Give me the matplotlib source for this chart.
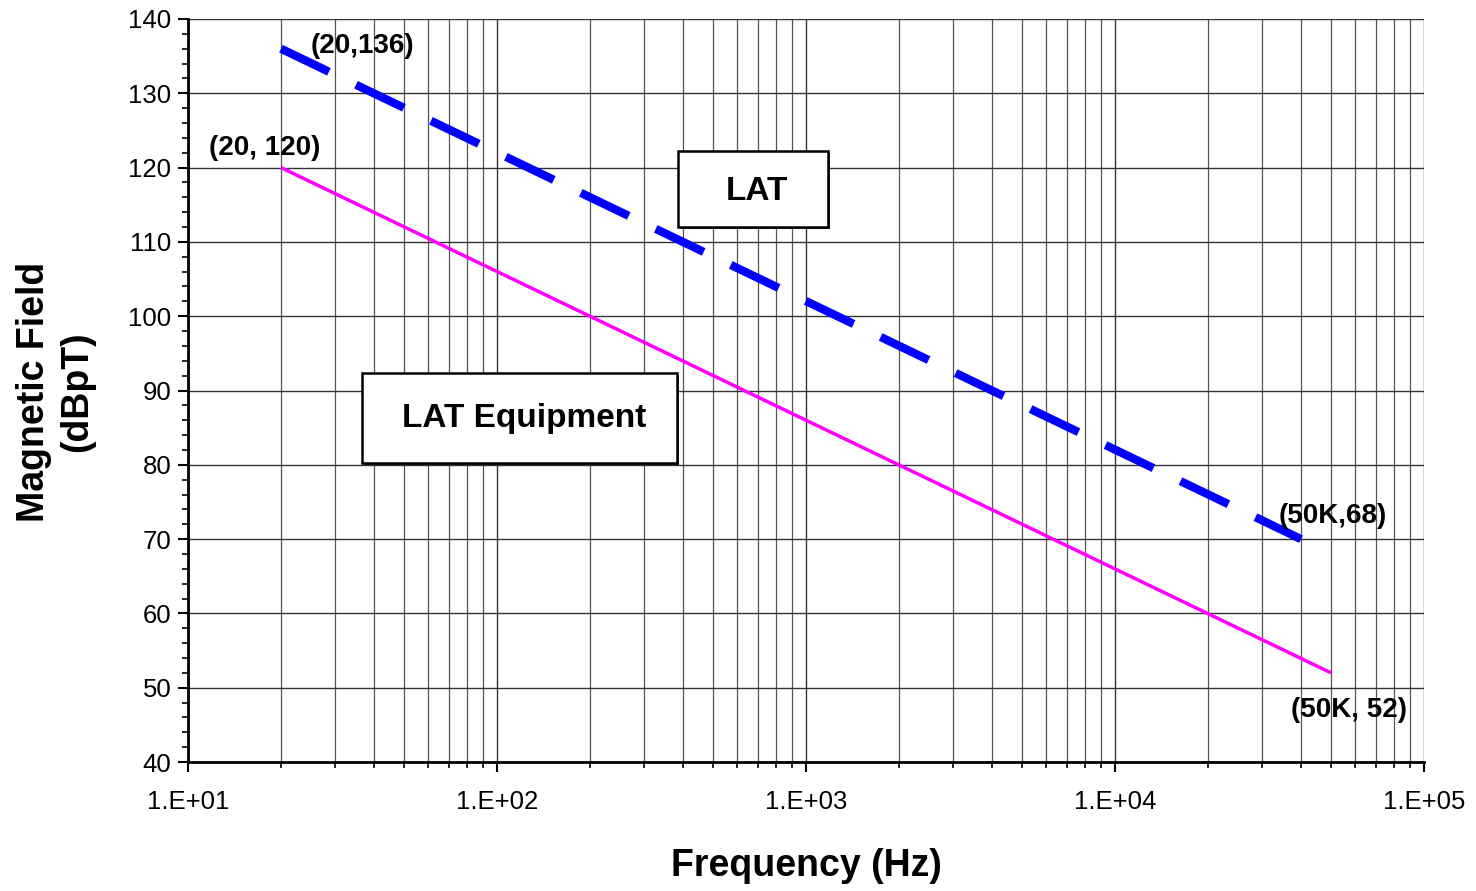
import matplotlib
matplotlib.use("Agg")
import matplotlib.pyplot as plt
from matplotlib.ticker import LogLocator, FixedLocator, NullFormatter, MultipleLocator
from matplotlib.patches import Rectangle

plt.rcParams['font.family'] = ['Liberation Sans', 'DejaVu Sans']

# Data
lat_freq = [20, 40000]
lat_field = [136, 70]
equip_freq = [20, 50000]
equip_field = [120, 52]
x_ticks = [1e1, 1e2, 1e3, 1e4, 1e5]
x_tick_labels = ["1.E+01", "1.E+02", "1.E+03", "1.E+04", "1.E+05"]
y_ticks = [40, 50, 60, 70, 80, 90, 100, 110, 120, 130, 140]

W, H = 1476, 891
fig = plt.figure(figsize=(W/100, H/100), dpi=100)
ax = fig.add_axes([188/W, 1-762/H, (1424-188)/W, (762-19)/H])
ax.set_xscale('log')
ax.set_xlim(10, 1e5)
ax.set_ylim(40, 140)

# grid
ax.xaxis.set_major_locator(FixedLocator(x_ticks))
ax.set_xticklabels(x_tick_labels)
ax.xaxis.set_minor_locator(LogLocator(base=10, subs=range(2, 10)))
ax.xaxis.set_minor_formatter(NullFormatter())
ax.set_yticks(y_ticks)
ax.yaxis.set_minor_locator(MultipleLocator(2))
ax.grid(which='major', axis='both', color='#333333', linewidth=1.0)
ax.grid(which='minor', axis='x', color='#555555', linewidth=0.9)
ax.set_axisbelow(True)

for s in ['top', 'right']:
    ax.spines[s].set_visible(False)
for s in ['left', 'bottom']:
    ax.spines[s].set_linewidth(2)
ax.tick_params(which='major', direction='out', length=7, width=1.5, labelsize=18.5, pad=5)
ax.tick_params(which='minor', direction='out', length=4, width=1.2)
ax.tick_params(axis='x', which='major', pad=13)

# lines
ax.plot(equip_freq, equip_field, color='#FF00FF', linewidth=2.5, solid_capstyle='butt', zorder=3)
ln, = ax.plot(lat_freq, lat_field, color='#0000FF', linewidth=6, dash_capstyle='butt', zorder=3)
ln.set_dashes((6.38, 3.6))

# annotations
ann_kw = dict(fontsize=20, fontweight='bold', ha='center', va='center')
fig.text(362/W, 1-46/H, "(20,136)", **ann_kw)
fig.text(265/W, 1-148/H, "(20, 120)", **ann_kw)
fig.text(1333/W, 1-516/H, "(50K,68)", **ann_kw)
fig.text(1349/W, 1-710/H, "(50K, 52)", **ann_kw)

# boxes
def box(x0, y0, x1, y1, label, fs, tx, ty):
    sh = Rectangle((x0/W + 2/W, 1 - y1/H - 2/H), (x1-x0)/W, (y1-y0)/H,
                   transform=fig.transFigure, facecolor='#333333', edgecolor='none', zorder=4)
    r = Rectangle((x0/W, 1 - y1/H), (x1-x0)/W, (y1-y0)/H,
                  transform=fig.transFigure, facecolor='white', edgecolor='black', linewidth=1.8, zorder=5)
    fig.patches.extend([sh, r])
    fig.text(tx/W, 1-ty/H, label, fontsize=fs, fontweight='bold',
             ha='center', va='center', zorder=6)

box(678, 151, 828, 227, "LAT", 24, 757, 191)
box(362, 373, 677, 463, "LAT Equipment", 24, 524, 419)

fig.text(806/W, 1-866/H, "Frequency (Hz)", fontsize=27, fontweight='bold', ha='center', va='center')
fig.text(56/W, 1-392/H, "Magnetic Field\n(dBpT)", fontsize=27, fontweight='bold', ha='center',
         va='center', rotation=90, multialignment='center', linespacing=1.25)

fig.savefig("out.png", dpi=100)
